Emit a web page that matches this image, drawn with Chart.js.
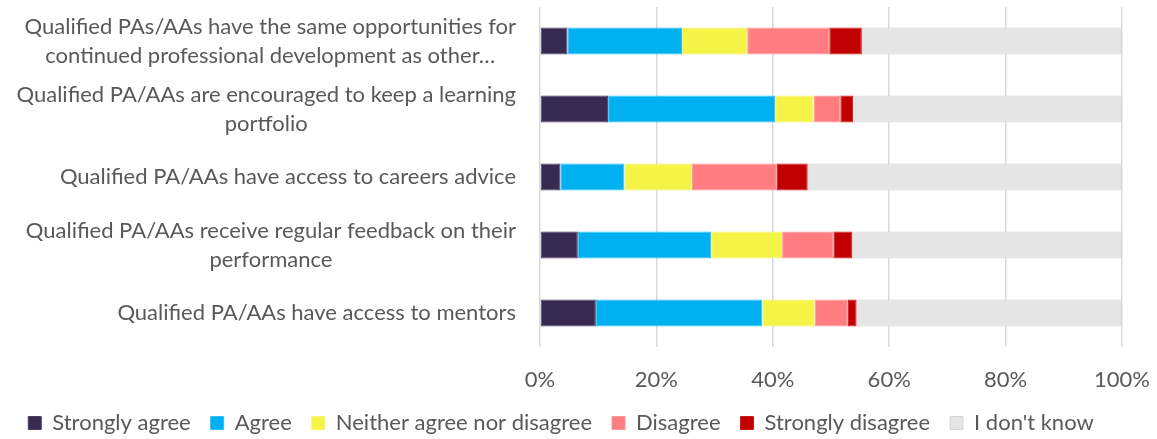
<!DOCTYPE html>
<html>
<head>
<meta charset="utf-8">
<script src="https://cdn.jsdelivr.net/npm/chart.js@4.4.1/dist/chart.umd.min.js"></script>
<style>
    html, body { margin: 0; padding: 0; background: #fff; }
    #wrap { width: 1157px; height: 439px; position: relative; }
</style>
</head>
<body>
<div id="wrap"><canvas id="chart"></canvas></div>
<script>
const categories = [
    ["Qualified PAs/AAs have the same opportunities for", "continued professional development as other…"],
    ["Qualified PA/AAs are encouraged to keep a learning", "portfolio"],
    ["Qualified PA/AAs have access to careers advice"],
    ["Qualified PA/AAs receive regular feedback on their", "performance"],
    ["Qualified PA/AAs have access to mentors"],
];

const seriesNames = ["Strongly agree", "Agree", "Neither agree nor disagree", "Disagree", "Strongly disagree", "I don't know"];
const stronglyAgree = [4.7, 11.7, 3.5, 6.5, 9.6];
const agree = [19.7, 28.7, 11.0, 22.9, 28.6];
const neither = [11.2, 6.6, 11.6, 12.2, 9.0];
const disagree = [14.1, 4.6, 14.6, 8.8, 5.7];
const stronglyDisagree = [5.6, 2.2, 5.3, 3.2, 1.5];
const dontKnow = [44.7, 46.2, 54.0, 46.4, 45.6];

const xTicks = [0, 20, 40, 60, 80, 100];

const FONT = "Lato, 'Open Sans', sans-serif";
const TEXT = "#595959";

const fills = ["#372b52", "#00b0f0", "#f5f345", "#ff7c80", "#c00000", "#e5e5e5"];
const edges = ["#4a3f63", "#33bff3", "#f7f56a", "#ff9598", "#c81a1a", "#d6d6d6"];
const values = [stronglyAgree, agree, neither, disagree, stronglyDisagree, dontKnow];

// draws the wrapped category labels: block right-aligned, lines centred in block
const yLabels = {
    id: "yLabels",
    afterDraw(chart) {
        const { ctx } = chart;
        const y = chart.scales.y;
        ctx.save();
        ctx.font = `22px ${FONT}`;
        ctx.fillStyle = TEXT;
        ctx.textAlign = "center";
        ctx.textBaseline = "middle";
        const right = y.right - 24;
        const lh = 29;
        categories.forEach((lines, i) => {
            const cy = y.getPixelForValue(i);
            const w = Math.max(...lines.map((l) => ctx.measureText(l).width));
            const cx = right - w / 2;
            lines.forEach((l, j) => {
                ctx.fillText(l, cx, cy + (j - (lines.length - 1) / 2) * lh);
            });
        });
        ctx.restore();
    },
};

new Chart(document.getElementById("chart"), {
    type: "bar",
    data: {
        labels: categories.map((c) => c.join(" ")),
        datasets: seriesNames.map((name, i) => ({
            label: name,
            data: values[i],
            backgroundColor: fills[i],
            borderColor: edges[i],
            borderWidth: 1,
            borderSkipped: false,
            barPercentage: 0.4,
            categoryPercentage: 1,
        })),
    },
    options: {
        indexAxis: "y",
        responsive: true,
        maintainAspectRatio: false,
        animation: false,
        layout: { padding: { top: 7, right: 35, left: 0, bottom: -5 } },
        plugins: {
            legend: {
                position: "bottom",
                labels: {
                    font: { family: FONT, size: 22 },
                    color: TEXT,
                    boxWidth: 13,
                    boxHeight: 13,
                    padding: 20,
                },
            },
            tooltip: { enabled: false },
        },
        scales: {
            x: {
                stacked: true,
                min: 0,
                max: 100,
                afterBuildTicks: (axis) => { axis.ticks = xTicks.map((v) => ({ value: v })); },
                ticks: {
                    callback: (v) => v + "%",
                    font: { family: FONT, size: 22 },
                    color: TEXT,
                    padding: 20,
                    maxRotation: 0,
                },
                grid: { color: "#d9d9d9", lineWidth: 1.5, drawTicks: false },
                border: { display: false },
                afterFit: (axis) => {
                    axis.height = 45;
                    axis.paddingRight = 0;
                    axis.paddingLeft = 0;
                },
            },
            y: {
                stacked: true,
                ticks: { display: false },
                grid: { display: false },
                border: { display: false },
                afterFit: (axis) => { axis.width = 540; },
            },
        },
    },
    plugins: [yLabels],
});
</script>
</body>
</html>
